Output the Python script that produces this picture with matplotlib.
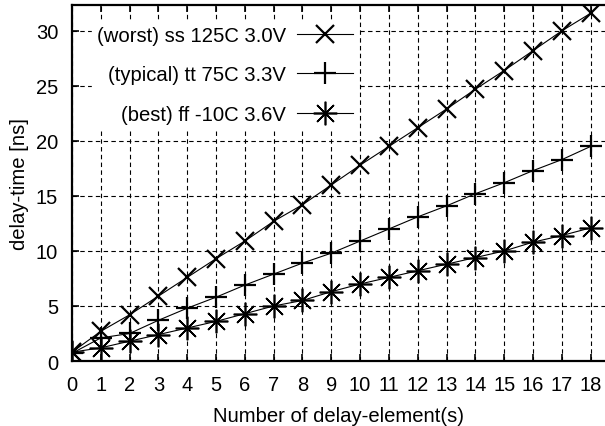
import numpy as np
import matplotlib
matplotlib.use("Agg")
import matplotlib.pyplot as plt

plt.rcParams["font.family"] = ["Liberation Sans", "DejaVu Sans"]

# delay per number of delay elements, three corners
n_elem = list(range(19))
worst = [0.8, 2.7, 4.2, 5.9, 7.6, 9.3, 10.9, 12.7, 14.2, 16.0, 17.8, 19.5,
         21.2, 22.9, 24.7, 26.4, 28.2, 30.0, 31.6]
typical = [0.7, 2.1, 2.5, 3.7, 4.8, 5.8, 6.9, 7.9, 8.9, 9.8, 10.9, 12.0,
           13.1, 14.1, 15.2, 16.2, 17.3, 18.3, 19.5]
best = [0.8, 1.2, 1.8, 2.4, 3.0, 3.6, 4.3, 5.0, 5.5, 6.3, 7.0, 7.6,
        8.2, 8.8, 9.4, 10.0, 10.8, 11.4, 12.1]

labels = ["(worst) ss 125C 3.0V", "(typical) tt 75C 3.3V", "(best) ff -10C 3.6V"]

fig = plt.figure(figsize=(6.05, 4.27), dpi=100)
ax = fig.add_axes([72 / 605, 1 - 362 / 427, 1 - 72 / 605, (362 - 5.5) / 427])

asterisk = (8, 2, 0)
ax.plot(n_elem, worst, color="black", lw=0.8, marker="x", ms=13, mew=1.6, label=labels[0])
ax.plot(n_elem, typical, color="black", lw=0.8, marker="+", ms=16, mew=1.6, label=labels[1])
ax.plot(n_elem, best, color="black", lw=0.8, marker=asterisk, ms=17, mew=1.2, label=labels[2])

ax.set_xlim(0, 18.5)
ax.set_ylim(0, 32.4)
ax.set_xticks(n_elem)
ax.set_yticks(range(0, 31, 5))
ax.grid(True, color="black", ls=(0, (4, 3)), lw=0.8)
ax.tick_params(direction="in", length=5, width=1.2, labelsize=14.5, top=True)
ax.tick_params(axis="x", pad=10)
ax.tick_params(axis="y", pad=10)
for side in ["left", "bottom", "top"]:
    ax.spines[side].set_linewidth(1.6)
ax.spines["right"].set_visible(False)

ax.set_xlabel("Number of delay-element(s)", fontsize=14.6, labelpad=9)
ax.set_ylabel("delay-time [ns]", fontsize=14.6, labelpad=5)

leg = ax.legend(loc="upper right", bbox_to_anchor=(0.537, 0.955), markerfirst=False,
                frameon=True, fontsize=14.6, handlelength=2.75, labelspacing=1.02,
                handletextpad=0.55, borderpad=0.25, borderaxespad=0)
leg.get_frame().set_facecolor("white")
leg.get_frame().set_edgecolor("white")
leg.get_frame().set_alpha(1)

fig.savefig("out.png", dpi=100)
